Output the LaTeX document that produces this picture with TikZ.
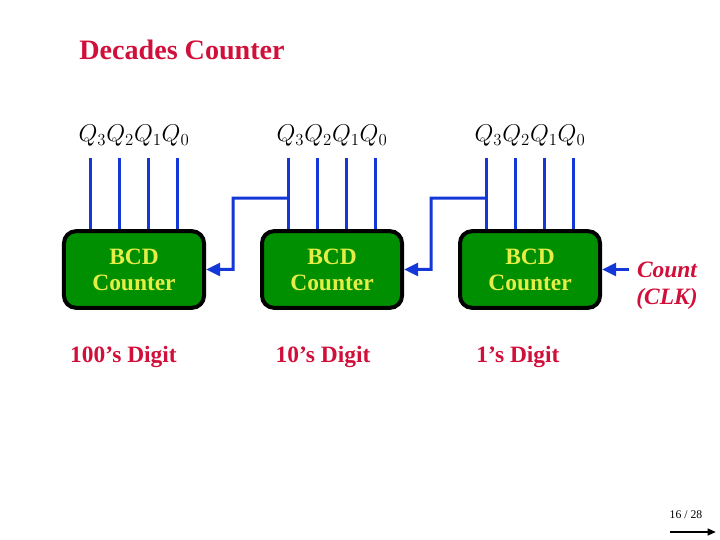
\documentclass[tikz,border=0pt]{standalone}
\usepackage{fontspec}
\setmainfont{Liberation Serif}
\usetikzlibrary{arrows.meta,positioning,calc}
\definecolor{titlered}{HTML}{D0103A}
\definecolor{wireblue}{HTML}{1438D8}
\definecolor{boxgreen}{HTML}{008F00}
\definecolor{textyellow}{HTML}{E4EE46}

\begin{document}
\begin{tikzpicture}[x=0.03cm, y=-0.03cm, font=\fontsize{20}{22}\selectfont,
  counter/.style={draw=black, line width=1.2mm, rounded corners=0.36cm, fill=boxgreen, text=textyellow, font=\fontsize{20}{22}\selectfont\bfseries, minimum width=4.2cm, minimum height=2.3cm, align=center},
  qlab/.style={inner sep=1pt},
  digit/.style={inner sep=2pt, text=titlered, font=\fontsize{20}{22}\selectfont\bfseries},
  wire/.style={wireblue, line width=0.9mm},
  feed/.style={wire, -{Triangle[length=0.42cm,width=0.38cm]}}]
  \useasboundingbox (0,0) rectangle (720,540);
  \node[text=titlered, font=\fontsize{24}{26}\selectfont\bfseries] (title) at (182,50) {Decades Counter};
  % the three counters
  \node[counter] (hund) at (134,269.5) {BCD\\Counter};
  \node[counter, right=1.62cm of hund] (tens) {BCD\\Counter};
  \node[counter, right=1.62cm of tens] (ones) {BCD\\Counter};
  \node[qlab] (qhund) at (134,136) {$Q_3Q_2Q_1Q_0$};
  \node[qlab] (qtens) at (332,136) {$Q_3Q_2Q_1Q_0$};
  \node[qlab] (qones) at (530,136) {$Q_3Q_2Q_1Q_0$};
  \foreach \b in {hund,tens,ones}
    \foreach \dx in {-43.5,-14.5,14.5,43.5}
      \draw[wire] ([xshift=\dx*0.03cm]\b.north) -- ++(0,-71);
  % carries
  \draw[feed] ([xshift=-1.305cm,yshift=0.93cm]tens.north) -| ($(hund.east)!0.5!(tens.west)$) -- (hund.east);
  \draw[feed] ([xshift=-1.305cm,yshift=0.93cm]ones.north) -| ($(tens.east)!0.5!(ones.west)$) -- (ones.west -| tens.east);
  \node[text=titlered, font=\fontsize{20}{23}\selectfont\bfseries\itshape, align=center] (count) at (667,286) {Count\\(CLK)};
  \draw[feed] ([xshift=-0.1cm]count.west |- ones.east) -- (ones.east);
  \node[digit] (dhund) at (123.5,357) {100’s Digit};
  \node[digit] (dtens) at (323,357) {10’s Digit};
  \node[digit] (dones) at (518,357) {1’s Digit};
  % page number
  \node[font=\fontsize{10}{12}\selectfont] (page) at (686,515) {16 / 28};
  \coordinate (pstart) at (670,532);
  \coordinate (pend) at (716,532);
  \draw[line width=0.6mm, -{Triangle[length=0.25cm,width=0.2cm]}] (pstart) -- (pend);
\end{tikzpicture}
\end{document}
